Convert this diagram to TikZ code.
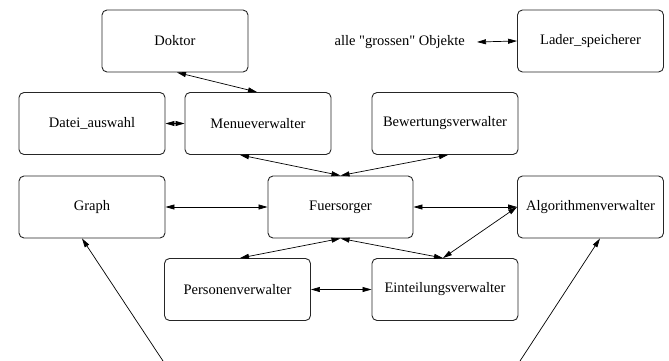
\documentclass[tikz,border=0pt]{standalone}
\usepackage{fontspec}
\setmainfont{Liberation Serif}
\usetikzlibrary{arrows.meta}
\begin{document}
\begin{tikzpicture}[x=1pt,y=-1pt,
  box/.style={draw=black!85, line width=0.9pt, rounded corners=5pt,
    minimum width=146pt, minimum height=62pt, inner sep=0pt,
    font=\fontsize{14.5}{17}\selectfont},
  link/.style={line width=0.7pt, {Triangle[length=9pt,width=5pt]}-{Triangle[length=9pt,width=5pt]}},
  onearrow/.style={line width=0.7pt, -{Triangle[length=9pt,width=5pt]}}]
\useasboundingbox (0,0) rectangle (669,361);

% class boxes
\node[box] (dok)  at (175,41)    {Doktor};
\node[box] (lad)  at (590.5,41)  {Lader\_speicherer};
\node[box] (dat)  at (92,123.5)  {Datei\_auswahl};
\node[box] (men)  at (258,123.5) {Menueverwalter};
\node[box] (bew)  at (445,123.5) {Bewertungsverwalter};
\node[box] (gra)  at (92,207)    {Graph};
\node[box, minimum width=145pt] (fue) at (340.5,207) {Fuersorger};
\node[box] (alg)  at (590.5,207) {Algorithmenverwalter};
\node[box] (per)  at (237.5,289.5) {Personenverwalter};
\node[box] (ein)  at (445,289.5) {Einteilungsverwalter};

% plain label
\node[font=\fontsize{14.5}{17}\selectfont, anchor=east, inner sep=0pt] (gro) at (465,42) {alle \textquotedbl grossen\textquotedbl{} Objekte};

% free line ends at the bottom edge
\coordinate (g0) at (163,361);
\coordinate (a0) at (520,361);

% connectors
\draw[link] ([xshift=12pt]gro.east) -- (lad.west);
\draw[link] ([xshift=2pt]dok.south) -- ([xshift=-1pt]men.north);
\draw[link] (dat.east) -- (men.west);
\draw[link] ([xshift=-18pt]men.south) -- (fue.north);
\draw[link] ([xshift=3pt]bew.south) -- (fue.north);
\draw[link] (gra.east) -- (fue.west);
\draw[link] (fue.east) -- (alg.west);
\draw[link] (alg.west) -- ([xshift=-2pt]ein.north);
\draw[link] (fue.south) -- ([xshift=2.5pt]per.north);
\draw[link] (fue.south) -- ([xshift=-2pt]ein.north);
\draw[link] (per.east) -- (ein.west);
\draw[onearrow] (g0) -- ([xshift=-10pt]gra.south);
\draw[onearrow] (a0) -- ([xshift=9.5pt]alg.south);
\end{tikzpicture}
\end{document}
